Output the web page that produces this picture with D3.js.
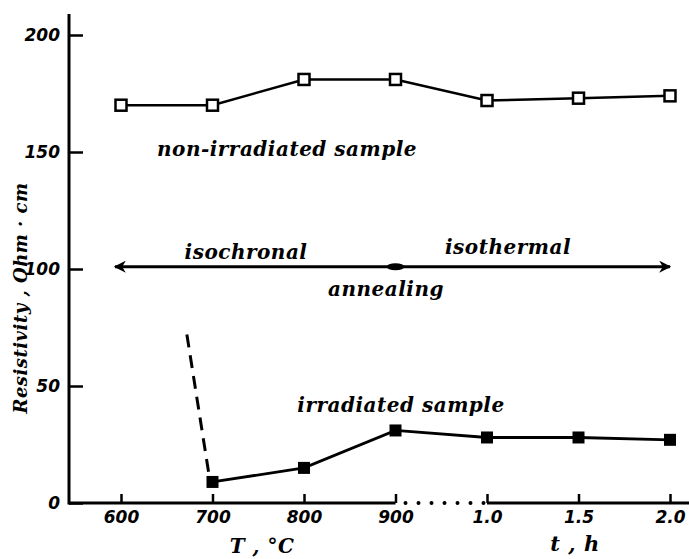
<!DOCTYPE html>
<html>
<head>
<meta charset="utf-8">
<script src="https://cdn.jsdelivr.net/npm/d3@7"></script>
<style>
    body { margin: 0; background: #fff; }
    .tick text { font-family: 'DejaVu Sans', sans-serif; font-weight: bold; font-style: italic; }
    .lbl { font-family: 'DejaVu Serif', serif; font-weight: bold; font-style: italic; }
</style>
</head>
<body>
<div id="chart"></div>
<script>
'use strict';

// annealing steps: temperature (isochronal) then time (isothermal)
const steps = ['600', '700', '800', '900', '1.0', '1.5', '2.0'];
const nonIrradiated = [170, 170, 181, 181, 172, 173, 174];
const irradiatedSteps = ['700', '800', '900', '1.0', '1.5', '2.0'];
const irradiated = [9, 15, 31, 28, 28, 27];
// dashed drop before 700 C
const dropTemps = [672, 697];
const dropValues = [72, 10];
const yTicks = [0, 50, 100, 150, 200];
const yAxisTop = 209;
const arrowLevel = 101;

(function(doc) {
    const width = 689;
    const height = 559;
    const svg = d3.select('#chart').append('svg')
        .attr('width', width)
        .attr('height', height);

    const axisX = 69;
    const x = d3.scalePoint().domain(steps).range([121, 670]);
    const xT = d3.scaleLinear().domain([600, 900]).range([x('600'), x('900')]);
    const y = d3.scaleLinear().domain([0, 200]).range([503, 35]);

    // y axis
    const yAxis = svg.append('g')
        .attr('transform', `translate(${axisX}, 0)`)
        .call(d3.axisLeft(y).tickValues(yTicks).tickSize(-14).tickPadding(9));
    yAxis.select('.domain').remove();
    yAxis.selectAll('.tick line').attr('stroke-width', 2.5);
    yAxis.selectAll('.tick text').attr('font-size', 17).attr('fill', '#000');
    svg.append('line')
        .attr('x1', axisX).attr('x2', axisX)
        .attr('y1', y(yAxisTop)).attr('y2', y(0) + 1.5)
        .attr('stroke', '#000').attr('stroke-width', 3);

    // x axis
    const xAxis = svg.append('g')
        .attr('transform', `translate(0, ${y(0)})`)
        .call(d3.axisBottom(x).tickSize(-9).tickPadding(8));
    xAxis.select('.domain').remove();
    xAxis.selectAll('.tick line').attr('stroke-width', 2.5);
    xAxis.selectAll('.tick text').attr('font-size', 17).attr('fill', '#000');

    const axisLine = (x1, x2, dash) => {
        const l = svg.append('line')
            .attr('x1', x1).attr('x2', x2)
            .attr('y1', y(0)).attr('y2', y(0))
            .attr('stroke', '#000').attr('stroke-width', 3);
        if (dash) {
            l.attr('stroke-dasharray', '0,13').attr('stroke-linecap', 'round').attr('stroke-width', 4);
        }
    };
    axisLine(axisX, x('900'));
    axisLine(x('900') + 10, x('1.0'), true);
    axisLine(x('1.0'), width);

    // non-irradiated sample
    const line = d3.line().x(d => x(d[0])).y(d => y(d[1]));
    const nonData = steps.map((s, i) => [s, nonIrradiated[i]]);
    svg.append('path')
        .attr('d', line(nonData))
        .attr('fill', 'none').attr('stroke', '#000').attr('stroke-width', 2.5);
    svg.selectAll('.open').data(nonData).enter().append('rect')
        .attr('x', d => x(d[0]) - 5.5)
        .attr('y', d => y(d[1]) - 5.5)
        .attr('width', 11).attr('height', 11)
        .attr('fill', '#fff').attr('stroke', '#000').attr('stroke-width', 2.5);

    // irradiated sample
    const irrData = irradiatedSteps.map((s, i) => [s, irradiated[i]]);
    svg.append('path')
        .attr('d', line(irrData))
        .attr('fill', 'none').attr('stroke', '#000').attr('stroke-width', 2.8);
    svg.selectAll('.filled').data(irrData).enter().append('rect')
        .attr('x', d => x(d[0]) - 6)
        .attr('y', d => y(d[1]) - 6)
        .attr('width', 12).attr('height', 12)
        .attr('fill', '#000');

    const drop = dropTemps.map((t, i) => [t, dropValues[i]]);
    svg.append('path')
        .attr('d', d3.line().x(d => xT(d[0])).y(d => y(d[1]))(drop))
        .attr('fill', 'none').attr('stroke', '#000').attr('stroke-width', 3)
        .attr('stroke-dasharray', '13,8');

    // annealing arrow
    const defs = svg.append('defs');
    defs.append('marker')
        .attr('id', 'head')
        .attr('viewBox', '0 0 10 10')
        .attr('refX', 9).attr('refY', 5)
        .attr('markerWidth', 6).attr('markerHeight', 4)
        .attr('markerUnits', 'strokeWidth')
        .attr('orient', 'auto-start-reverse')
        .append('path').attr('d', 'M0,0 L10,5 L0,10 L3,5 Z').attr('fill', '#000');
    svg.append('line')
        .attr('x1', x('600') - 6).attr('x2', x('2.0'))
        .attr('y1', y(arrowLevel)).attr('y2', y(arrowLevel))
        .attr('stroke', '#000').attr('stroke-width', 3)
        .attr('marker-start', 'url(#head)')
        .attr('marker-end', 'url(#head)');
    svg.append('ellipse')
        .attr('cx', x('900')).attr('cy', y(arrowLevel))
        .attr('rx', 9).attr('ry', 3.5).attr('fill', '#000');

    // labels
    const label = (txt, cx, cy, size, anchor) => svg.append('text')
        .attr('class', 'lbl')
        .attr('x', cx).attr('y', cy)
        .attr('text-anchor', anchor || 'middle')
        .attr('font-size', size)
        .attr('letter-spacing', 0.5)
        .text(txt);
    label('non-irradiated  sample', 287, 156, 20);
    label('isochronal', 246, 259, 20);
    label('isothermal', 508, 254, 20);
    label('annealing', 386, 296, 20);
    label('irradiated  sample', 401, 412, 20);
    label('T , °C', 262, 553, 20);
    label('t , h', 575, 551, 21);

    svg.append('text')
        .attr('class', 'lbl')
        .attr('transform', 'translate(27, 298) rotate(-90)')
        .attr('text-anchor', 'middle')
        .attr('font-size', 18)
        .attr('letter-spacing', 0.5)
        .text('Resistivity , Ohm · cm');

}(document));
</script>
</body>
</html>
